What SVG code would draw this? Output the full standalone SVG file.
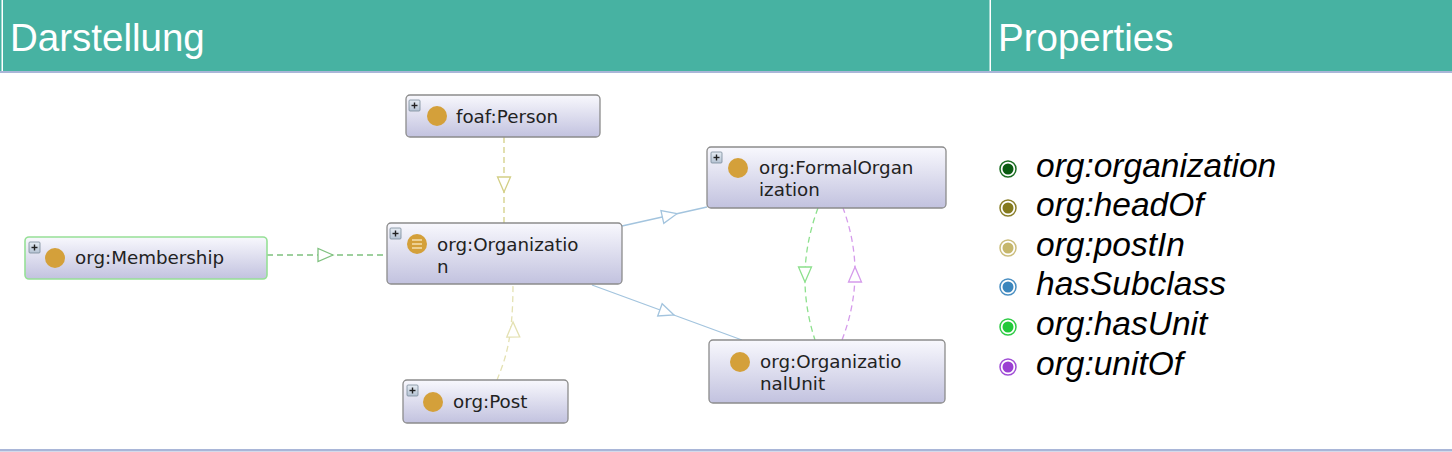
<svg xmlns="http://www.w3.org/2000/svg" xmlns:xlink="http://www.w3.org/1999/xlink" width="1452" height="452" viewBox="0 0 1452 452">
<style>
.hdr{font-family:"Liberation Sans",Arial,sans-serif;font-size:38.5px;fill:#ffffff}
.box{fill:url(#boxg);stroke:#8c8c8c;stroke-width:1.3}
.lbl{font-family:"DejaVu Sans","Noto Sans",sans-serif;font-size:18.3px;fill:#222222}
.dot{fill:#d4a03a}
.plus{fill:url(#plusg);stroke:#7a8a9a;stroke-width:0.8}
.pl{stroke:#222;stroke-width:1.4}
.leg{font-family:"Liberation Sans",Arial,sans-serif;font-size:33.5px;font-style:italic;fill:#000000}
.c{fill:none;stroke-width:1.3}
.dash{stroke-dasharray:6 4}
.ah{fill:#ffffff;stroke-width:1.3}
</style>
<defs>
<linearGradient id="boxg" x1="0" y1="0" x2="0" y2="1">
<stop offset="0" stop-color="#f8f8fd"/>
<stop offset="1" stop-color="#c2c2df"/>
</linearGradient>
<linearGradient id="plusg" x1="0" y1="0" x2="0" y2="1">
<stop offset="0" stop-color="#e6ecf3"/>
<stop offset="1" stop-color="#b4c2d3"/>
</linearGradient>
<path id="tri" d="M0,0 L-15,-6.5 L-15,6.5 Z"/>
<g id="pi">
<rect class="plus" x="0" y="0" width="11" height="11" rx="1"/>
<line class="pl" x1="2.5" y1="5.5" x2="8.5" y2="5.5"/>
<line class="pl" x1="5.5" y1="2.5" x2="5.5" y2="8.5"/>
</g>
</defs>

<rect x="0" y="0" width="1452" height="452" fill="#ffffff"/>
<g id="header">
<rect x="0" y="0" width="1452" height="71" fill="#47b2a2"/>
<rect x="0" y="71" width="1452" height="2" fill="#a9b6d8"/>
<rect x="1.5" y="0" width="1.5" height="71" fill="#ffffff"/>
<rect x="989.5" y="0" width="1.5" height="71" fill="#ffffff"/>
<text class="hdr" x="10" y="51">Darstellung</text>
<text class="hdr" x="998" y="51">Properties</text>
</g>
<rect x="0" y="449" width="1452" height="2.5" fill="#a9b6d8"/>

<g id="connectors">
<line class="c dash" x1="504" y1="137" x2="504" y2="223" stroke="#d3cf86"/>
<use xlink:href="#tri" class="ah" stroke="#d3cf86" transform="translate(504,192) rotate(90)"/>

<path class="c dash" d="M497,380 C505,360 513,340 513,284" stroke="#e4e1b2"/>
<use xlink:href="#tri" class="ah" stroke="#e4e1b2" transform="translate(513,322) rotate(-91)"/>

<line class="c dash" x1="267" y1="255" x2="387" y2="255" stroke="#7fc17f"/>
<use xlink:href="#tri" class="ah" stroke="#7fc17f" transform="translate(333,255)"/>

<line class="c" x1="622" y1="226" x2="707" y2="207" stroke="#a3c4de"/>
<use xlink:href="#tri" class="ah" stroke="#a3c4de" transform="translate(677,213.7) rotate(-12.6)"/>

<line class="c" x1="592" y1="285" x2="742" y2="340" stroke="#a3c4de"/>
<use xlink:href="#tri" class="ah" stroke="#a3c4de" transform="translate(674,315) rotate(20.1)"/>

<path class="c dash" d="M818,208 Q793.5,274 815,340" stroke="#8de08d"/>
<use xlink:href="#tri" class="ah" stroke="#8de08d" transform="translate(805,282) rotate(90)"/>

<path class="c dash" d="M842,340 Q867.5,274 843,208" stroke="#d59beb"/>
<use xlink:href="#tri" class="ah" stroke="#d59beb" transform="translate(855,267) rotate(-90)"/>
</g>

<g id="node-person">
<rect class="box" x="406" y="95" width="194" height="42" rx="4"/>
<use xlink:href="#pi" transform="translate(409,100)"/>
<circle class="dot" cx="437" cy="116" r="10"/>
<text class="lbl" x="456" y="123">foaf:Person</text>
</g>

<g id="node-organization">
<rect class="box" x="387" y="223" width="235" height="61" rx="4"/>
<use xlink:href="#pi" transform="translate(390,228)"/>
<circle class="dot" cx="417" cy="244" r="10"/>
<g stroke="#f3dca8" stroke-width="1.6">
<line x1="412" y1="240" x2="422" y2="240"/>
<line x1="412" y1="244" x2="422" y2="244"/>
<line x1="412" y1="248" x2="422" y2="248"/>
</g>
<text class="lbl" x="437" y="251">org:Organizatio</text>
<text class="lbl" x="437" y="273">n</text>
</g>

<g id="node-formalorganization">
<rect class="box" x="707" y="147" width="239" height="61" rx="4"/>
<use xlink:href="#pi" transform="translate(711,152)"/>
<circle class="dot" cx="738" cy="168" r="10"/>
<text class="lbl" x="759" y="174">org:FormalOrgan</text>
<text class="lbl" x="759" y="196">ization</text>
</g>

<g id="node-organizationalunit">
<rect class="box" x="709" y="340" width="236" height="63" rx="4"/>
<circle class="dot" cx="740" cy="362" r="10"/>
<text class="lbl" x="760" y="368">org:Organizatio</text>
<text class="lbl" x="760" y="390">nalUnit</text>
</g>

<g id="node-membership">
<rect class="box" x="25" y="237" width="242" height="42" rx="4" style="stroke:#96e096;stroke-width:1.6"/>
<use xlink:href="#pi" transform="translate(29,242)"/>
<circle class="dot" cx="55" cy="258" r="10"/>
<text class="lbl" x="75" y="264">org:Membership</text>
</g>

<g id="node-post">
<rect class="box" x="403" y="380" width="165" height="43" rx="4"/>
<use xlink:href="#pi" transform="translate(407,385)"/>
<circle class="dot" cx="433" cy="402" r="10"/>
<text class="lbl" x="453" y="408">org:Post</text>
</g>

<g id="legend">
<circle cx="1008" cy="169" r="8" fill="#ffffff" stroke="#1b6e22" stroke-width="1.5"/>
<circle cx="1008" cy="169" r="5.5" fill="#0b5c12"/>
<text class="leg" x="1036" y="177">org:organization</text>
<circle cx="1008" cy="208" r="8" fill="#ffffff" stroke="#8a7f2a" stroke-width="1.5"/>
<circle cx="1008" cy="208" r="5.5" fill="#847a1e"/>
<text class="leg" x="1036" y="216">org:headOf</text>
<circle cx="1008" cy="248" r="8" fill="#ffffff" stroke="#cbbd7c" stroke-width="1.5"/>
<circle cx="1008" cy="248" r="5.5" fill="#c6b76c"/>
<text class="leg" x="1036" y="256">org:postIn</text>
<circle cx="1008" cy="287" r="8" fill="#ffffff" stroke="#4a8fc2" stroke-width="1.5"/>
<circle cx="1008" cy="287" r="5.5" fill="#3b86bd"/>
<text class="leg" x="1036" y="295">hasSubclass</text>
<circle cx="1008" cy="327" r="8" fill="#ffffff" stroke="#2fcc46" stroke-width="1.5"/>
<circle cx="1008" cy="327" r="5.5" fill="#22c93a"/>
<text class="leg" x="1036" y="335">org:hasUnit</text>
<circle cx="1008" cy="367" r="8" fill="#ffffff" stroke="#a04ed6" stroke-width="1.5"/>
<circle cx="1008" cy="367" r="5.5" fill="#9a3fd2"/>
<text class="leg" x="1036" y="375">org:unitOf</text>
</g>
</svg>
